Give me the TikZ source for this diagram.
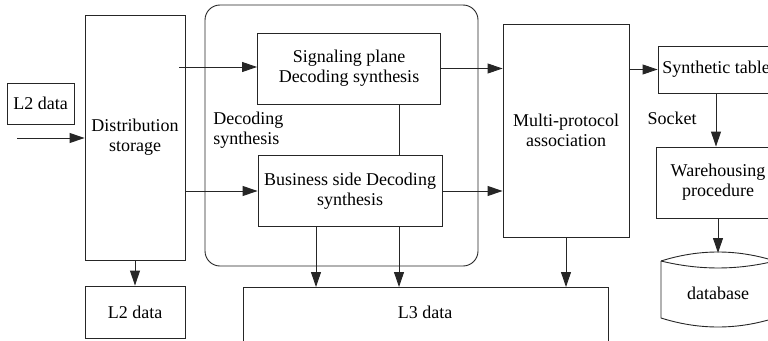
\documentclass[tikz,border=0pt]{standalone}
\usepackage{fontspec}
\setmainfont{Liberation Serif}
\usetikzlibrary{arrows.meta}
\begin{document}
\begin{tikzpicture}[x=1pt,y=-1pt,
  line width=0.9pt, draw=black!85,
  every node/.style={font=\fontsize{18}{20}\selectfont, text=black},
  blk/.style={draw, inner sep=0pt, align=center},
  arr/.style={-{Triangle[length=15pt,width=10pt]}},
  lbl/.style={align=left, inner sep=0pt}]
\useasboundingbox (0,0) rectangle (768,340);
\clip (0,0) rectangle (768,340);

% decoding synthesis group frame
\draw[rounded corners=15pt] (205,5) rectangle (478,266);
\node[lbl, anchor=west] (decl) at (213,130) {Decoding\\synthesis};

% blocks
\node[blk, minimum width=67pt, minimum height=41pt] (l2in) at (40.5,103.5) {L2 data};
\node[blk, minimum width=100pt, minimum height=245pt] (dist) at (135,137.5) {Distribution\\storage};
\node[blk, minimum width=183pt, minimum height=71pt] (sig) at (349,68.5) {Signaling plane\\Decoding synthesis};
\node[blk, minimum width=184pt, minimum height=71pt] (bus) at (350,191) {Business side Decoding\\synthesis};
\node[blk, minimum width=126pt, minimum height=213pt] (multi) at (566,130.5) {Multi-protocol\\association};
\node[blk, minimum width=116pt, minimum height=47pt] (synth) at (716,69.5) {Synthetic table};
\node[blk, minimum width=124pt, minimum height=71pt] (ware) at (718,182.5) {Warehousing\\procedure};
\node[blk, minimum width=100pt, minimum height=52pt] (l2out) at (135,312) {L2 data};
\node[lbl] (sock) at (672,118) {Socket};

% L3 data block, open at the lower edge
\draw (243,345) -- (243,287) -- (608,287) -- (608,345);
\coordinate (l3top) at (425,287);
\node (l3) at (425,312) {L3 data};

% database drum
\draw (661,261) .. controls (699,249) and (737,249) .. (775,261);
\draw (661,261) .. controls (699,270.3) and (737,270.3) .. (775,261);
\draw (661,261) -- (661,318) .. controls (699,330) and (737,330) .. (775,318) -- (775,261);
\coordinate (dbtop) at (718,253);
\node (db) at (718,293) {database};

% connectors
\coordinate (inl) at (17,138);
\coordinate (dsig) at (179,67);
\draw[arr] (inl) -- (inl -| dist.west);
\draw[arr] (dsig) -- (dsig -| sig.west);
\draw[arr] (dist.east |- bus.west) -- (bus.west);
\draw[arr] (sig.east) -- (sig.east -| multi.west);
\draw[arr] (bus.east) -- (bus.east -| multi.west);
\draw (sig.south -| 399,0) -- (bus.north -| 399,0);
\draw[arr] (bus.south -| 316,0) -- (l3top -| 316,0);
\draw[arr] (bus.south -| 399,0) -- (l3top -| 399,0);
\draw[arr] (multi.south) -- (multi.south |- l3top);
\draw[arr] (dist.south) -- (l2out.north);
\draw[arr] (multi.east |- synth.west) -- (synth.west);
\draw[arr] (synth.south) -- (synth.south |- ware.north);
\draw[arr] (ware.south) -- (dbtop);
\end{tikzpicture}
\end{document}
